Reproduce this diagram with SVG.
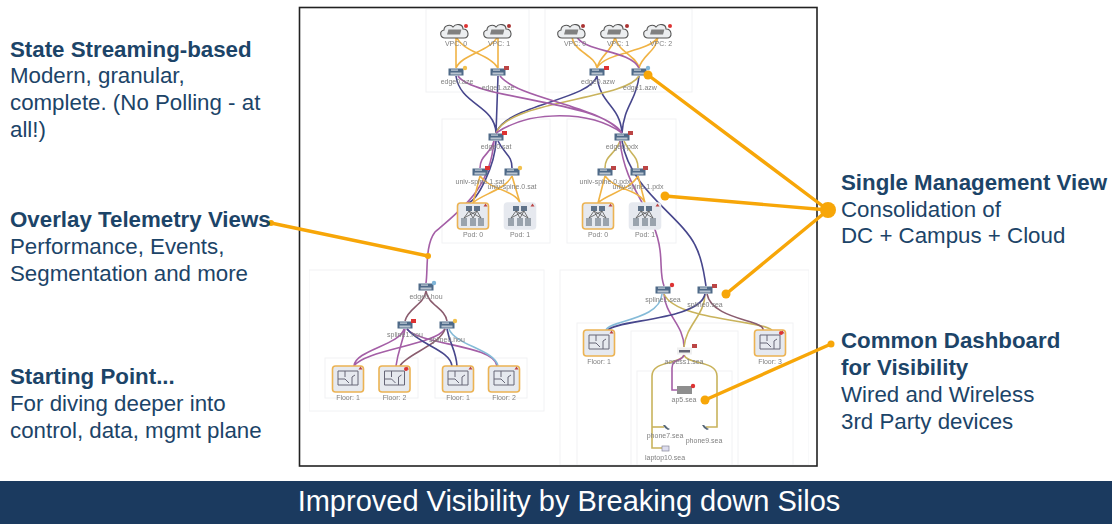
<svg xmlns="http://www.w3.org/2000/svg" xmlns:xlink="http://www.w3.org/1999/xlink" width="1112" height="524" viewBox="0 0 1112 524">
<style>
text{font-family:"Liberation Sans",Arial,sans-serif}
.h{font-size:22.300px;font-weight:bold;fill:#1c4468}
.b{font-size:22.300px;fill:#1c4468}
.l{font-size:7px;fill:#808080;text-anchor:middle}
.p{fill:#fff;stroke:#f1f2f4;stroke-width:1}
.c{fill:none;stroke-width:1.600}
.o{stroke:#f0b345}.n{stroke:#47468c}.u{stroke:#a45ea6}.g{stroke:#c9b35c}.r{stroke:#8a5c6e}.s{stroke:#85bbd8}
.a{fill:none;stroke:#f7a608;stroke-width:3.400}
.d{fill:#f7a608}
.sel{fill:#e6e9ef;stroke:#ecb353;stroke-width:1.600}
.nos{fill:#e6e9ef;stroke:#e6e9ef;stroke-width:1.600}
</style>
<defs>
<filter id="soft" x="0" y="0" width="1" height="1"><feGaussianBlur stdDeviation="0.5"/></filter>
<g id="sw"><rect x="-7.500" y="-3.500" width="15" height="7" fill="#4f6a88"/><rect x="-5.500" y="0.500" width="11" height="2" fill="#b9c4d0"/><rect x="-5" y="-2.500" width="7" height="1.200" fill="#c8d2dc"/></g>
<g id="cloud"><path d="M-10 7C-15 7-16 0-11-1C-11-6-4-7-2-4C1-8 8-7 8-2C14-2 15 7 9 7Z" fill="#eceef0" stroke="#555" stroke-width="1.100"/><rect x="-7" y="-1.500" width="13" height="5" fill="#808080" transform="skewX(-15)"/></g>
<g id="pod"><rect x="-15.500" y="-13" width="31" height="26" rx="3"/><g stroke="none"><path d="M10.500-9.500l2-3 2 3z" fill="#b44"/><g fill="#5f7288"><rect x="-7" y="-10" width="6" height="5"/><rect x="1" y="-10" width="6" height="5"/></g><g fill="#9aa3ad"><rect x="-12" y="2" width="6" height="8"/><rect x="-3" y="2" width="6" height="8"/><rect x="5" y="2" width="6" height="8"/></g></g><path d="M-4-5L-9 2M-4-5L0 2M-4-5L8 2M4-5L-9 2M4-5L0 2M4-5L8 2" stroke="#555" stroke-width="0.800" fill="none"/></g>
<g id="floor"><rect x="-15.500" y="-13" width="31" height="26" rx="3"/><path d="M10.500-9.500l2-3 2 3z" fill="#b44" stroke="none"/><path d="M-10-8H10V6H-10ZM-3-8V-2M-10 0H-3L1 4M4 6V-2L7-4" fill="none" stroke="#667" stroke-width="1"/></g>
</defs>
<rect width="1112" height="524" fill="#fff"/>
<g id="frame"><rect x="299.500" y="7.500" width="517.500" height="458.500" fill="#fff" stroke="#222" stroke-width="1.600"/></g>
<g filter="url(#soft)">
<g id="panels">
<rect class="p" x="426" y="9" width="103" height="83"/><rect class="p" x="545" y="9" width="147" height="83"/>
<rect class="p" x="442" y="119" width="108" height="124"/><rect class="p" x="567" y="119" width="109" height="124"/>
<rect class="p" x="309" y="270" width="235" height="141"/><rect class="p" x="325" y="358" width="93" height="40"/><rect class="p" x="435" y="358" width="92" height="40"/>
<rect class="p" x="560" y="270" width="249" height="195"/><rect class="p" x="577" y="323" width="216" height="142"/><rect class="p" x="631" y="331" width="107" height="134"/><rect class="p" x="637" y="371" width="95" height="94"/>
</g>
<g id="connectors">
<path class="c o" d="M456 36V68M498 36V68M456 36C462 52 490 54 498 68M498 36C490 52 462 54 456 68"/>
<path class="c o" d="M572 37C574 52 595 55 597 68M615 37C612 52 600 55 597 68M658 37C650 52 605 52 597 68M615 37C618 52 636 55 639 68M658 37C656 52 642 55 639 68"/>
<path class="c u" d="M577 37C585 52 630 50 639 68"/>
<path class="c n" d="M456 76C460 105 495 105 496 133M498 76L496 133M597 76C590 100 505 105 496 133M597 76C600 105 620 105 622 133M639 76C637 100 624 105 622 133"/>
<path class="c g" d="M639 76C625 100 510 100 496 133"/>
<path class="c u" d="M458 76C475 100 600 100 622 133M500 76C520 100 600 105 622 133M496 133C530 110 590 110 622 133"/>
<path class="c n" d="M496 141C495 165 478 200 468 203"/>
<path class="c u" d="M494 141C490 155 480 155 480 168M494 141C490 190 460 210 435 232C425 245 428 270 426 283"/>
<path class="c n" d="M498 141C505 155 512 155 512 168"/>
<path class="c g" d="M620 141C615 155 605 155 605 168M624 141C630 155 638 155 638 168"/>
<path class="c u" d="M620 141C625 190 655 210 660 250C662 265 660 275 664 286"/>
<path class="c n" d="M622 141C630 190 680 215 695 245C703 260 704 275 706 286"/>
<path class="c o" d="M480 176L473 203M512 176L520 203M480 176C490 190 515 190 520 203M512 176C505 190 480 195 473 203M605 176L598 203M638 176L645 203M605 176C615 190 640 190 645 203M638 176C630 190 605 195 598 203"/>
<path class="c r" d="M426 291C424 305 408 308 405 321M426 291C428 305 445 308 447 321"/>
<path class="c u" d="M404 329C400 345 355 350 354 366M405 329C402 345 398 350 396 366M407 329C420 345 495 345 497 366M445 329C435 345 365 350 354 366"/>
<path class="c r" d="M445 329C440 345 405 355 400 366"/>
<path class="c n" d="M407 329C420 345 450 350 452 366M447 329C450 345 456 350 457 366"/>
<path class="c s" d="M449 329C455 345 495 350 498 366"/>
<path class="c u" d="M664 294C665 315 684 325 684 347"/>
<path class="c g" d="M705 294C705 315 686 325 684 347M664 294C675 320 760 320 772 330"/>
<path class="c s" d="M662 294C660 320 610 320 606 330"/>
<path class="c n" d="M705 294C700 320 615 320 608 330"/>
<path class="c r" d="M707 294C712 320 765 320 763 330"/>
<path class="c g" d="M684 355C680 365 652 360 652 376V448H664M684 355C688 365 717 360 717 376V427H706"/>
<path class="c g" d="M652 427H664"/>
<path class="c u" d="M684 355C682 362 672 358 672 368V390H680"/>
</g>
<g id="n-vpc0a"><use xlink:href="#cloud" x="455" y="31"/><circle cx="466" cy="26" r="2" fill="#d33"/><text class="l" x="456" y="46">VPC: 0</text></g>
<g id="n-vpc1a"><use xlink:href="#cloud" x="498" y="31"/><circle cx="509" cy="26" r="2" fill="#a33"/><text class="l" x="499" y="46">VPC: 1</text></g>
<g id="n-vpc0b"><use xlink:href="#cloud" x="572" y="31"/><circle cx="583" cy="26" r="2" fill="#a33"/><text class="l" x="575" y="46">VPC: 0</text></g>
<g id="n-vpc1b"><use xlink:href="#cloud" x="615" y="31"/><circle cx="627" cy="26" r="2" fill="#a33"/><text class="l" x="618" y="46">VPC: 1</text></g>
<g id="n-vpc2b"><use xlink:href="#cloud" x="658" y="31"/><circle cx="670" cy="26" r="2" fill="#d33"/><text class="l" x="661" y="46">VPC: 2</text></g>
<g id="n-edge0aze"><use xlink:href="#sw" x="456" y="72"/><circle cx="465" cy="68" r="2.200" fill="#f2c14e"/><text class="l" x="457" y="84">edge0.aze</text></g>
<g id="n-edge1aze"><use xlink:href="#sw" x="498" y="72"/><rect x="504" y="66" width="5" height="4" fill="#b44"/><text class="l" x="498" y="90">edge1.aze</text></g>
<g id="n-edge0azw"><use xlink:href="#sw" x="597" y="72"/><rect x="604" y="66" width="5" height="4" fill="#d33"/><text class="l" x="598" y="84">edge0.azw</text></g>
<g id="n-edge1azw"><use xlink:href="#sw" x="639" y="72"/><circle cx="648" cy="68" r="2.200" fill="#7fb5d8"/><text class="l" x="640" y="90">edge1.azw</text></g>
<g id="n-edge0sat"><use xlink:href="#sw" x="496" y="137"/><rect x="502" y="131" width="5" height="4" fill="#d33"/><text class="l" x="496" y="149">edge0.sat</text></g>
<g id="n-edge0pdx"><use xlink:href="#sw" x="622" y="137"/><rect x="628" y="131" width="5" height="4" fill="#b44"/><text class="l" x="622" y="149">edge0.pdx</text></g>
<g id="n-us1sat"><use xlink:href="#sw" x="480" y="172"/><rect x="485" y="166" width="5" height="4" fill="#d33"/><text class="l" x="480" y="184">univ-spine.1.sat</text></g>
<g id="n-us0sat"><use xlink:href="#sw" x="512" y="172"/><circle cx="520" cy="168" r="2.200" fill="#f2c14e"/><text class="l" x="512" y="189">univ-spine.0.sat</text></g>
<g id="n-us0pdx"><use xlink:href="#sw" x="605" y="172"/><rect x="611" y="166" width="5" height="4" fill="#b44"/><text class="l" x="605" y="184">univ-spine.0.pdx</text></g>
<g id="n-us1pdx"><use xlink:href="#sw" x="638" y="172"/><rect x="643" y="166" width="5" height="4" fill="#b44"/><text class="l" x="638" y="189">univ-spine.1.pdx</text></g>
<g id="n-pod0sat"><use xlink:href="#pod" class="sel" x="473" y="216"/><text class="l" x="473" y="237">Pod: 0</text></g>
<g id="n-pod1sat"><use xlink:href="#pod" class="nos" x="520" y="216"/><text class="l" x="520" y="237">Pod: 1</text></g>
<g id="n-pod0pdx"><use xlink:href="#pod" class="sel" x="598" y="216"/><text class="l" x="598" y="237">Pod: 0</text></g>
<g id="n-pod1pdx"><use xlink:href="#pod" class="nos" x="645" y="216"/><text class="l" x="645" y="237">Pod: 1</text></g>
<g id="n-edge0hou"><use xlink:href="#sw" x="426" y="287"/><circle cx="434" cy="283" r="2.200" fill="#7fb5d8"/><text class="l" x="426" y="299">edge0.hou</text></g>
<g id="n-spine1hou"><use xlink:href="#sw" x="405" y="325"/><rect x="411" y="319" width="5" height="4" fill="#d33"/><text class="l" x="405" y="337">spline1.hou</text></g>
<g id="n-spine0hou"><use xlink:href="#sw" x="447" y="325"/><circle cx="455" cy="321" r="2.200" fill="#f2c14e"/><text class="l" x="447" y="342">spline0.hou</text></g>
<g id="n-f1a"><use xlink:href="#floor" class="sel" x="348" y="379"/><text class="l" x="348" y="400">Floor: 1</text></g>
<g id="n-f2a"><use xlink:href="#floor" class="sel" x="394.500" y="379"/><circle cx="406" cy="369" r="2" fill="#d33"/><text class="l" x="394.500" y="400">Floor: 2</text></g>
<g id="n-f1b"><use xlink:href="#floor" class="sel" x="458" y="379"/><text class="l" x="458" y="400">Floor: 1</text></g>
<g id="n-f2b"><use xlink:href="#floor" class="sel" x="504" y="379"/><text class="l" x="504" y="400">Floor: 2</text></g>
<g id="n-spine1sea"><use xlink:href="#sw" x="663" y="290"/><circle cx="672" cy="285" r="2.200" fill="#d33"/><text class="l" x="663" y="302">spline1.sea</text></g>
<g id="n-spine0sea"><use xlink:href="#sw" x="705" y="290"/><rect x="712" y="284" width="5" height="4" fill="#b44"/><text class="l" x="705" y="307">spline0.sea</text></g>
<g id="n-f1sea"><use xlink:href="#floor" class="sel" x="599" y="343"/><text class="l" x="599" y="364">Floor: 1</text></g>
<g id="n-f3sea"><use xlink:href="#floor" class="sel" x="770" y="343"/><circle cx="781" cy="333" r="2" fill="#d33"/><text class="l" x="770" y="364">Floor: 3</text></g>
<g id="n-access"><rect x="677" y="347.500" width="15" height="7" fill="#f0f0f0"/><rect x="679" y="350" width="11" height="2.500" fill="#667"/><rect x="692" y="344" width="5" height="4" fill="#b44"/><text class="l" x="684" y="364">access1.sea</text></g>
<g id="n-ap5"><rect x="677" y="386" width="15" height="8" fill="#8e8e8e"/><circle cx="693" cy="386" r="2.200" fill="#d33"/><text class="l" x="684" y="402">ap5.sea</text></g>
<g id="n-phone7"><path d="M663 425l2 0 3 3 2 1-2 1-3-2z" fill="#567"/><text class="l" x="665" y="438">phone7.sea</text></g>
<g id="n-phone9"><path d="M702 425l2 0 3 3 2 1-2 1-3-2z" fill="#567"/><text class="l" x="704" y="443">phone9.sea</text></g>
<g id="n-laptop"><rect x="662" y="446" width="7" height="5" fill="#dde" stroke="#889" stroke-width="0.700"/><text class="l" x="665" y="460">laptop10.sea</text></g>
</g>
<g id="callouts">
<path class="a" d="M828 210L648 75M828 210L665 196M828 210L726 294M271 223L428 256M831 344L705 400"/>
<circle class="d" cx="828" cy="210" r="8"/><circle class="d" cx="648" cy="75" r="4.500"/><circle class="d" cx="665" cy="196" r="4.500"/><circle class="d" cx="726" cy="294" r="4.500"/><circle class="d" cx="271" cy="223" r="3"/><circle class="d" cx="428" cy="256" r="3"/><circle class="d" cx="831" cy="344" r="3.500"/><circle class="d" cx="705" cy="400" r="4.500"/>
</g>
<g id="left-text">
<text class="h" x="10" y="57">State Streaming-based</text><text class="b" x="10" y="83">Modern, granular,</text><text class="b" x="10" y="110">complete. (No Polling - at</text><text class="b" x="10" y="137">all!)</text>
<text class="h" x="10" y="227">Overlay Telemetry Views</text><text class="b" x="10" y="254">Performance, Events,</text><text class="b" x="10" y="281">Segmentation and more</text>
<text class="h" x="10" y="384">Starting Point...</text><text class="b" x="10" y="411">For diving deeper into</text><text class="b" x="10" y="438">control, data, mgmt plane</text>
</g>
<g id="right-text">
<text class="h" x="841" y="190">Single Management View</text><text class="b" x="841" y="217">Consolidation of</text><text class="b" x="841" y="243">DC + Campus + Cloud</text>
<text class="h" x="841" y="348">Common Dashboard</text><text class="h" x="841" y="375">for Visibility</text><text class="b" x="841" y="402">Wired and Wireless</text><text class="b" x="841" y="429">3rd Party devices</text>
</g>
<g id="footer"><rect x="0" y="481" width="1112" height="43" fill="#1b3a5f"/><text x="569" y="511" font-size="29" fill="#fff" text-anchor="middle">Improved Visibility by Breaking down Silos</text></g>
</svg>
